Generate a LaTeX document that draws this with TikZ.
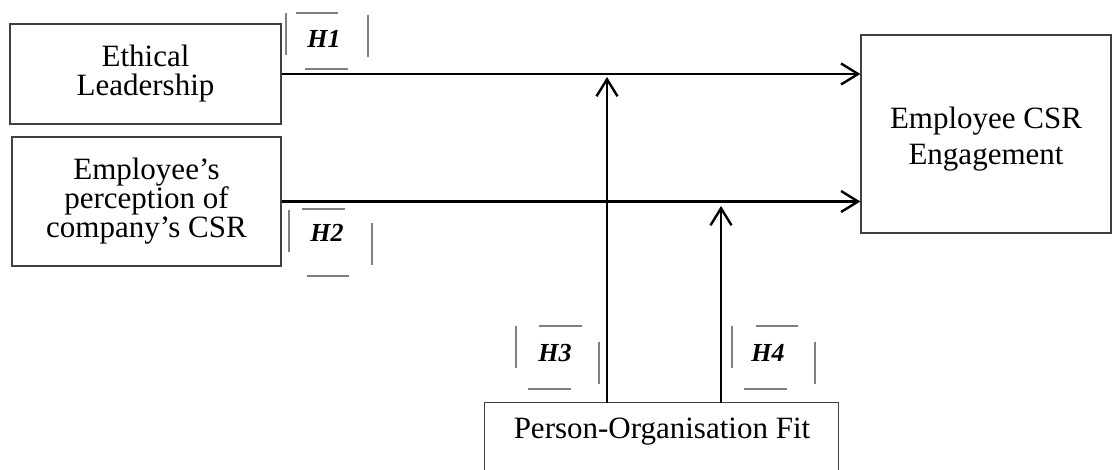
\documentclass[tikz,border=0pt]{standalone}
\usepackage{fontspec}
\setmainfont{Liberation Serif}
\usetikzlibrary{arrows.meta}
\tikzset{
  boxline/.style={draw=black!75, line width=1.3pt},
  box/.style={boxline, inner sep=0pt, align=center, font=\fontsize{31}{29}\selectfont},
  txt/.style={inner sep=0pt, align=center, font=\fontsize{31}{29}\selectfont},
  conn/.style={line width=2.6pt, -{Straight Barb[length=17pt,width=21pt,line width=2.4pt]}},
  hlab/.style={font=\fontsize{26}{28}\selectfont\bfseries\itshape, inner sep=0pt},
  hframe/.style={draw=black!50, line width=1.2pt},
}
\begin{document}
\begin{tikzpicture}[x=1pt,y=1pt]
\useasboundingbox (0,0) rectangle (1115,470);
% boxes
\node[box, minimum width=271, minimum height=100] (A) at (145.5,396) {Ethical\\Leadership};
\node[box, minimum width=269, minimum height=129] (B) at (146.5,268.5) {Employee’s\\perception of\\company’s CSR};
\node[box, minimum width=250, minimum height=198] (C) at (986,336) {};
\node[txt, font=\fontsize{31}{36}\selectfont] (Ct) at (986,331) {Employee CSR\\Engagement};
\node[minimum width=353, minimum height=68, inner sep=0pt] (D) at (661.5,33) {};
\draw[boxline] (D.south west) -- (D.north west) -- (D.north east) -- (D.south east);
\node[txt] (Dt) at (662,38) {Person-Organisation Fit};
% moderation points
\coordinate (m1) at (607,393);
\coordinate (m2) at (721,264);
% connectors
\draw[conn] (A.east) -- (A.east -| C.west);
\draw[conn] (B.east) -- (B.east -| C.west);
\draw[conn] (m1 |- D.north) -- (m1);
\draw[conn] (m2 |- D.north) -- (m2);
% hypothesis labels
\node[hlab] (h1) at (324,431) {H1};
\draw[hframe] (286,457) -- (286,415);
\draw[hframe] (296,457) -- (338,457);
\draw[hframe] (368,455) -- (368,413);
\draw[hframe] (305,401) -- (348,401);
\node[hlab] (h2) at (327,237) {H2};
\draw[hframe] (289,260) -- (289,218);
\draw[hframe] (302,261) -- (345,261);
\draw[hframe] (372,247) -- (372,205);
\draw[hframe] (307,194) -- (349,194);
\node[hlab] (h3) at (555,117) {H3};
\draw[hframe] (516,144) -- (516,102);
\draw[hframe] (539,144) -- (582,144);
\draw[hframe] (599,128) -- (599,86);
\draw[hframe] (528,81) -- (571,81);
\node[hlab] (h4) at (768,117) {H4};
\draw[hframe] (732,144) -- (732,102);
\draw[hframe] (756,144) -- (798,144);
\draw[hframe] (815,128) -- (815,86);
\draw[hframe] (744,81) -- (787,81);
\end{tikzpicture}
\end{document}
